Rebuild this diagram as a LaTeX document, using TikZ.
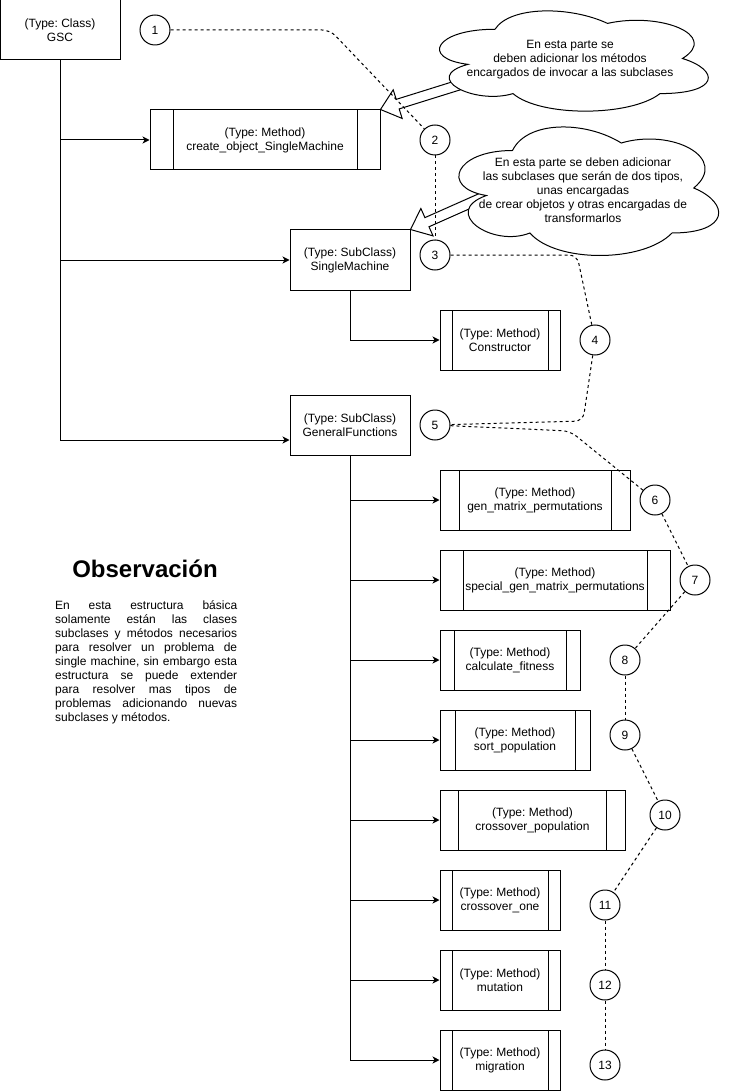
\documentclass[tikz,border=0pt]{standalone}
\usepackage{fontspec}
\setmainfont{Liberation Sans}
\frenchspacing
\usetikzlibrary{arrows.meta, calc, positioning}
\tikzset{>={Stealth[length=7pt,width=7pt,inset=2pt]}}
\tikzset{
  classbox/.style={draw, line width=1pt, minimum width=120pt, minimum height=60pt,
    inner sep=2pt, align=center, font=\fontsize{12}{14}\selectfont},
  methodbox/.style={classbox, minimum width=#1, path picture={
      \draw[line width=1pt] ([xshift=0.1*#1]path picture bounding box.north west) -- ([xshift=0.1*#1]path picture bounding box.south west);
      \draw[line width=1pt] ([xshift=-0.1*#1]path picture bounding box.north east) -- ([xshift=-0.1*#1]path picture bounding box.south east);}},
  numcirc/.style={draw, circle, line width=1pt, minimum size=30pt, inner sep=0pt,
    font=\fontsize{12}{14}\selectfont},
  link/.style={->, line width=1pt},
  dashlink/.style={line width=1pt, dash pattern=on 3pt off 3pt, rounded corners=8pt},
  blockarrow/.style={draw, line width=1pt, fill=white, line join=miter},
  cloudline/.style={draw, line width=1pt, fill=white},
  cloudtext/.style={align=center, font=\fontsize{12}{14}\selectfont},
}
% cloud outline: x, y, width, height
\newcommand{\drawcloud}[4]{%
  \path[cloudline] ({#1+0.25*#3},{#2+0.25*#4})
    .. controls ({#1+0.05*#3},{#2+0.25*#4}) and ({#1},{#2+0.5*#4}) .. ({#1+0.16*#3},{#2+0.55*#4})
    .. controls ({#1},{#2+0.66*#4}) and ({#1+0.18*#3},{#2+0.9*#4}) .. ({#1+0.31*#3},{#2+0.8*#4})
    .. controls ({#1+0.4*#3},{#2+#4}) and ({#1+0.7*#3},{#2+#4}) .. ({#1+0.8*#3},{#2+0.8*#4})
    .. controls ({#1+#3},{#2+0.8*#4}) and ({#1+#3},{#2+0.6*#4}) .. ({#1+0.875*#3},{#2+0.5*#4})
    .. controls ({#1+#3},{#2+0.3*#4}) and ({#1+0.8*#3},{#2+0.1*#4}) .. ({#1+0.625*#3},{#2+0.2*#4})
    .. controls ({#1+0.5*#3},{#2+0.05*#4}) and ({#1+0.3*#3},{#2+0.05*#4}) .. cycle;}
% hollow block arrow: tail, tip
\newcommand{\hollowarrow}[2]{%
  \coordinate (hb) at ($(#2)!18pt!(#1)$);
  \path[blockarrow] (#2) -- ($(hb)!15pt!90:(#1)$) -- ($(hb)!5pt!90:(#1)$)
    -- ($(#1)!5pt!-90:(hb)$) -- ($(#1)!5pt!90:(hb)$) -- ($(hb)!5pt!-90:(#1)$)
    -- ($(hb)!15pt!-90:(#1)$) -- cycle;}

\begin{document}
\begin{tikzpicture}[x=1pt, y=-1pt]
  \useasboundingbox (0,0) rectangle (731,1091);

  % classes and subclasses
  \node[classbox] (gsc) at (60,30) {(Type: Class)\\GSC};
  \node[methodbox=230pt] (createobj) at (265,140) {(Type: Method)\\create\_object\_SingleMachine};
  \node[classbox] (singlemachine) at (350,260) {(Type: SubClass)\\SingleMachine};
  \node[methodbox=120pt] (constructor) at (500,340) {(Type: Method)\\Constructor};
  \node[classbox] (generalfun) at (350,425) {(Type: SubClass)\\GeneralFunctions};

  % methods of GeneralFunctions
  \node[methodbox=190pt] (genmatrix) at (535,500) {(Type: Method)\\gen\_matrix\_permutations};
  \node[methodbox=230pt] (specialgen) at (555,580) {(Type: Method)\\special\_gen\_matrix\_permutations};
  \node[methodbox=140pt] (fitness) at (510,660) {(Type: Method)\\calculate\_fitness};
  \node[methodbox=150pt] (sortpop) at (515,740) {(Type: Method)\\sort\_population};
  \node[methodbox=185pt] (crosspop) at (532.5,820) {(Type: Method)\\crossover\_population};
  \node[methodbox=120pt] (crossone) at (500,900) {(Type: Method)\\crossover\_one};
  \node[methodbox=120pt] (mutation) at (500,980) {(Type: Method)\\mutation};
  \node[methodbox=120pt] (migration) at (500,1060) {(Type: Method)\\migration};

  % tree connectors
  \draw[link] (gsc.south) |- (createobj.west);
  \draw[link] (gsc.south) |- (singlemachine.west);
  \draw[link] (gsc.south) |- ([yshift=-15pt]generalfun.west);
  \draw[link] (singlemachine.south) |- (constructor.west);
  \foreach \m in {genmatrix, specialgen, fitness, sortpop, crosspop, crossone, mutation, migration}
    \draw[link] (generalfun.south) |- (\m.west);

  % notes
  \coordinate (tailA) at (475,80);
  \coordinate (tailB) at (495,192);
  \hollowarrow{tailA}{createobj.north east}
  \hollowarrow{tailB}{singlemachine.north east}
  \drawcloud{420}{0}{300}{117}
  \drawcloud{440}{113}{290}{150}
  \node[cloudtext] (cloudA) at (570,60) {En esta parte se\\deben adicionar los métodos\\encargados de invocar a las subclases};
  \node[cloudtext] (cloudB) at (583,190) {En esta parte se deben adicionar\\las subclases que serán de dos tipos,\\unas encargadas\\de crear objetos y otras encargadas de\\transformarlos};

  % numbered steps
  \node[numcirc] (n1) at (155,30) {1};
  \node[numcirc] (n2) at (435,140) {2};
  \node[numcirc] (n3) at (435,255) {3};
  \node[numcirc] (n4) at (595,340) {4};
  \node[numcirc] (n5) at (435,425) {5};
  \node[numcirc] (n6) at (655,500) {6};
  \node[numcirc] (n7) at (695,580) {7};
  \node[numcirc] (n8) at (625,660) {8};
  \node[numcirc] (n9) at (625,735) {9};
  \node[numcirc] (n10) at (665,815) {10};
  \node[numcirc] (n11) at (605,905) {11};
  \node[numcirc] (n12) at (605,985) {12};
  \node[numcirc] (n13) at (605,1065) {13};

  \draw[dashlink] (n1) -- (330,30) -- (n2);
  \draw[dashlink] (n2) -- (n3);
  \draw[dashlink] (n3) -- (577,255) -- (n4);
  \draw[dashlink] (n4) -- (583,421) -- (n5);
  \draw[dashlink] (n5) -- (570,431) -- (n6);
  \foreach \a/\b in {6/7, 7/8, 8/9, 9/10, 10/11, 11/12, 12/13}
    \draw[dashlink] (n\a) -- (n\b);

  % observation
  \node[font=\bfseries\fontsize{24}{28}\selectfont] (obstitle) at (145,569) {Observación};
  \node[anchor=north west, inner sep=0pt, text width=182pt, align=justify,
    font=\fontsize{12}{14}\selectfont] (obsbody) at (55,600)
    {\hyphenpenalty=10000\tolerance=10000
     En esta estructura básica\linebreak solamente están las clases\linebreak
     subclases y métodos necesarios\linebreak para resolver un problema de\linebreak
     single machine, sin embargo esta\linebreak estructura se puede extender\linebreak
     para resolver mas tipos de\linebreak problemas adicionando nuevas\linebreak
     subclases y métodos.};
\end{tikzpicture}
\end{document}
